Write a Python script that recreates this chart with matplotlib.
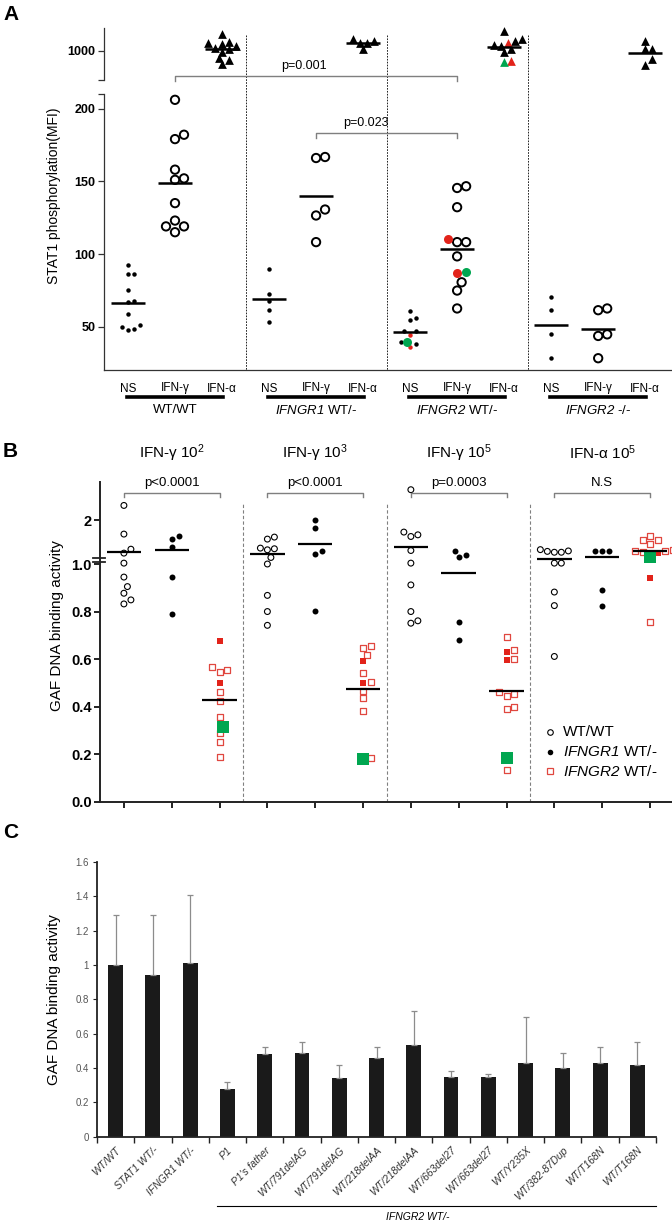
import numpy as np
import matplotlib
matplotlib.use('Agg')
import matplotlib.pyplot as plt
from matplotlib.lines import Line2D
from matplotlib import transforms

plt.rcParams['font.family'] = ['Liberation Sans', 'DejaVu Sans']
plt.rcParams['mathtext.fontset'] = 'custom'
plt.rcParams['mathtext.rm'] = 'Liberation Sans'
plt.rcParams['mathtext.it'] = 'Liberation Sans:italic'
# sf slot used for italic gene names (keeps the digits italic too)
plt.rcParams['mathtext.sf'] = 'Liberation Sans:italic'
NARROW = ['Liberation Sans Narrow', 'Liberation Sans', 'DejaVu Sans']

RED = '#e2231a'
GREEN = '#00a650'
SQ_RED = '#e0473f'

# ---------------- panel A data (STAT1 phosphorylation, MFI) ----------------
a_cols = ['NS', 'IFN-γ', 'IFN-α'] * 4
a_groups = ['WT/WT', '$\\mathsf{IFNGR1}$ WT/-', '$\\mathsf{IFNGR2}$ WT/-', '$\\mathsf{IFNGR2}$ -/-']

a_ns_wt = [92.7, 86.5, 86, 75.6, 68, 66.7, 59.1, 51.2, 50, 48.2, 47.7]
a_gam_wt = [206, 182, 179, 158, 152, 151, 135, 123, 119, 119, 115]
a_alf_wt = [1126, 1070, 1062, 1049, 1040, 1020, 1011, 995, 949, 934, 903]
a_ns_r1 = [89.7, 72.8, 68, 61.4, 53.2]
a_gam_r1 = [166.7, 166, 130.6, 126.5, 108.2]
a_alf_r1 = [1093, 1075, 1062, 1062, 1011]
a_ns_r2 = [60.8, 56.3, 54.6, 47.3, 47.3, 39.8, 38.2]
a_ns_r2_red = [44.5, 36]
a_ns_r2_green = [39.8]
a_gam_r2 = [146.6, 145.4, 132.2, 108.2, 108.2, 98.4, 80.6, 74.9, 62.6]
a_gam_r2_red = [110.4, 87.3]
a_gam_r2_green = [88]
a_alf_r2 = [1152, 1088, 1075, 1045, 1036, 1011, 990]
a_alf_r2_red = [1062, 926]
a_alf_r2_green = [913]
a_ns_ko = [70.3, 61.3, 44.8, 28.4]
a_gam_ko = [62.6, 61.4, 44.8, 43.7, 28.4]
a_alf_ko = [1075, 1016, 1011, 939, 895]

a_black = [a_ns_wt, a_gam_wt, a_alf_wt, a_ns_r1, a_gam_r1, a_alf_r1,
           a_ns_r2, a_gam_r2, a_alf_r2, a_ns_ko, a_gam_ko, a_alf_ko]
a_red = [[]] * 6 + [a_ns_r2_red, a_gam_r2_red, a_alf_r2_red] + [[]] * 3
a_green = [[]] * 6 + [a_ns_r2_green, a_gam_r2_green, a_alf_r2_green] + [[]] * 3

# ---------------- panel B data (GAF DNA binding) ----------------
b_titles = ['IFN-γ 10$^2$', 'IFN-γ 10$^3$', 'IFN-γ 10$^5$', 'IFN-α 10$^5$']
b_pvals = ['p<0.0001', 'p<0.0001', 'p=0.0003', 'N.S']
b_wt = [[2.345, 1.687, 1.34, 1.25, 1.02, 0.945, 0.905, 0.877, 0.849, 0.832],
        [1.618, 1.572, 1.365, 1.35, 1.326, 1.15, 1.0, 0.868, 0.80, 0.742],
        [2.706, 1.733, 1.67, 1.632, 1.31, 1.02, 0.912, 0.80, 0.761, 0.751],
        [1.33, 1.30, 1.29, 1.27, 1.27, 1.02, 1.02, 0.882, 0.825, 0.611]]
b_r1 = [[1.648, 1.57, 1.38, 0.945, 0.79],
        [2.0, 1.816, 1.30, 1.22, 0.802],
        [1.31, 1.21, 1.159, 0.755, 0.681],
        [1.30, 1.30, 1.30, 0.892, 0.822]]
b_r2 = [[0.568, 0.555, 0.544, 0.46, 0.424, 0.358, 0.288, 0.251, 0.189],
        [0.653, 0.646, 0.618, 0.541, 0.504, 0.467, 0.435, 0.382, 0.183],
        [0.695, 0.639, 0.602, 0.463, 0.451, 0.445, 0.397, 0.389, 0.134],
        [1.648, 1.556, 1.556, 1.464, 1.326, 1.30, 1.30, 1.28, 0.758]]
b_r2_red = [[0.678, 0.498], [0.59, 0.498], [0.629, 0.595], [1.264, 0.94]]
b_r2_green = [[0.316], [0.178], [0.183], [1.172]]
b_mean_wt = [1.287, 1.235, 1.40, 1.12]
b_mean_r1 = [1.326, 1.464, 0.964, 1.159]
b_mean_r2 = [0.428, 0.473, 0.467, 1.31]

# ---------------- panel C data ----------------
c_labels = ['WT/WT', 'STAT1 WT/-', 'IFNGR1 WT/-', 'P1', "P1's father",
            'WT/791delAG', 'WT/791delAG', 'WT/218delAA', 'WT/218delAA',
            'WT/663del27', 'WT/663del27', 'WT/Y235X', 'WT/382-87Dup',
            'WT/T168N', 'WT/T168N']
c_vals = [1.0, 0.94, 1.01, 0.276, 0.48, 0.49, 0.34, 0.46, 0.534,
          0.35, 0.35, 0.427, 0.40, 0.427, 0.42]
c_err = [0.29, 0.35, 0.40, 0.04, 0.04, 0.06, 0.08, 0.065, 0.20,
         0.034, 0.013, 0.27, 0.09, 0.095, 0.13]

W, H = 672, 1223


def fx(x):
    return x / W


def fy(y):
    return 1 - y / H


def swarm(ax, x0, vals, d):
    # simple beeswarm: spread points horizontally so markers don't overlap
    vals = np.asarray(vals, float)
    if len(vals) == 0:
        return np.array([])
    pts = ax.transData.transform(np.column_stack([np.full(len(vals), x0), vals]))
    ys = pts[:, 1]
    cands = [0.0]
    for k in range(1, 15):
        cands += [k * d / 2, -k * d / 2]
    placed = []
    offs = np.zeros(len(vals))
    for i in np.argsort(ys):
        for c in cands:
            ok = all((c - px) ** 2 + (ys[i] - py) ** 2 >= (d * 0.98) ** 2 for px, py in placed)
            if ok:
                break
        placed.append((c, ys[i]))
        offs[i] = c
    unit = ax.transData.transform([1, 0])[0] - ax.transData.transform([0, 0])[0]
    return offs / unit


def bold_ticks(ax, size):
    for lab in ax.get_yticklabels():
        lab.set_fontweight('bold')
        lab.set_fontsize(size)


fig = plt.figure(figsize=(6.72, 12.23), dpi=100)

# ============================ PANEL A ============================
axAt = fig.add_axes([fx(104), fy(80.5), 1 - fx(104), 52.5 / H])
axAb = fig.add_axes([fx(104), fy(370), 1 - fx(104), 276 / H])
for ax in (axAt, axAb):
    ax.set_xlim(-0.51, 11.57)
    ax.spines['right'].set_visible(False)
    ax.spines['top'].set_visible(False)
    ax.spines['left'].set_color('#333333')
    ax.spines['left'].set_linewidth(0.9)
    ax.tick_params(axis='y', length=4, width=0.9, color='#333333', pad=2)
axAt.spines['bottom'].set_visible(False)
axAt.set_xticks([])
axAt.set_ylim(774, 1175)
axAt.set_yticks([1000])
axAt.set_yticks([774], minor=True)
axAt.tick_params(axis='y', which='minor', length=4, width=0.9, color='#333333')
axAb.set_ylim(20.3, 210)
axAb.set_yticks([50, 100, 150, 200])
axAb.set_yticks([210], minor=True)
axAb.tick_params(axis='y', which='minor', length=4, width=0.9, color='#333333')
axAb.spines['bottom'].set_color('#333333')
axAb.spines['bottom'].set_linewidth(0.9)
axAb.set_xticks(range(12))
axAb.set_xticklabels(a_cols, fontfamily=NARROW, fontsize=8.5)
axAb.tick_params(axis='x', length=0, pad=9)
bold_ticks(axAt, 9)
bold_ticks(axAb, 9)

a_style = {
    0: dict(black=dict(marker='o', s=3.2 ** 2, c='k', lw=0),
            red=dict(marker='o', s=3.2 ** 2, c=RED, lw=0),
            green=dict(marker='o', s=6.5 ** 2, c=GREEN, lw=0), d=6),
    1: dict(black=dict(marker='o', s=6 ** 2, facecolors='none', edgecolors='k', lw=1.4),
            red=dict(marker='o', s=6.5 ** 2, c=RED, lw=0),
            green=dict(marker='o', s=6.5 ** 2, c=GREEN, lw=0), d=9),
    2: dict(black=dict(marker='^', s=6.3 ** 2, c='k', lw=0),
            red=dict(marker='^', s=6.3 ** 2, c=RED, lw=0),
            green=dict(marker='^', s=6.3 ** 2, c=GREEN, lw=0), d=7),
}

for i in range(12):
    kind = i % 3
    ax = axAt if kind == 2 else axAb
    st = a_style[kind]
    vals = list(a_black[i]) + list(a_red[i]) + list(a_green[i])
    tags = ['black'] * len(a_black[i]) + ['red'] * len(a_red[i]) + ['green'] * len(a_green[i])
    offs = swarm(ax, i, vals, st['d'])
    for tag in ('black', 'red', 'green'):
        idx = [j for j, t in enumerate(tags) if t == tag]
        if idx:
            ax.scatter(i + offs[idx], np.array(vals)[idx], zorder=3, clip_on=False, **st[tag])
    ax.hlines(np.mean(vals), i - 0.36, i + 0.36, color='k', lw=1.8, zorder=4)

blendA = transforms.blended_transform_factory(axAb.transData, fig.transFigure)
for xs in (2.5, 5.5, 8.5):
    fig.add_artist(Line2D([xs, xs], [fy(35), fy(370)], transform=blendA,
                          color='k', lw=0.6, ls=(0, (2, 1.5))))


def bracket(blend, x1, x2, ypix, leg=5, color='#7f7f7f'):
    fig.add_artist(Line2D([x1, x1, x2, x2],
                          [fy(ypix + leg), fy(ypix), fy(ypix), fy(ypix + leg)],
                          transform=blend, color=color, lw=1.0))


bracket(blendA, 1, 7, 76)
fig.text(3.75, fy(72), 'p=0.001', transform=blendA, ha='center', va='bottom',
         fontfamily=NARROW, fontsize=9)
bracket(blendA, 4, 7, 132.7)
fig.text(5.05, fy(129), 'p=0.023', transform=blendA, ha='center', va='bottom',
         fontfamily=NARROW, fontsize=9)

for g, name in enumerate(a_groups):
    c = 3 * g + 1
    fig.add_artist(Line2D([c - 1.02, c + 1.02], [fy(397), fy(397)], transform=blendA,
                          color='k', lw=2.6))
    fig.text(c, fy(410), name, transform=blendA, ha='center', va='center', fontsize=9.5)

fig.text(fx(54), fy(196), 'STAT1 phosphorylation(MFI)', rotation=90,
         ha='center', va='center', fontsize=10)

# ============================ PANEL B ============================
K = 0.1832


def fwd(y):
    y = np.asarray(y, float)
    return np.where(y <= 1, y, 1 + (y - 1) * K)


def inv(t):
    t = np.asarray(t, float)
    return np.where(t <= 1, t, 1 + (t - 1) / K)


axB = fig.add_axes([fx(100), fy(801.7), 1 - fx(100), 320 / H])
axB.set_yscale('function', functions=(fwd, inv))
axB.set_ylim(0, 2.89)
axB.set_xlim(-0.5, 11.46)
axB.spines['right'].set_visible(False)
axB.spines['top'].set_visible(False)
for s in ('left', 'bottom'):
    axB.spines[s].set_linewidth(1.4)
    axB.spines[s].set_color('#222222')
axB.set_yticks([0, 0.2, 0.4, 0.6, 0.8, 1.0, 2])
axB.set_yticklabels(['0.0', '0.2', '0.4', '0.6', '0.8', '1.0', '2'])
axB.yaxis.set_minor_locator(matplotlib.ticker.NullLocator())
axB.set_xticks(range(12))
axB.set_xticklabels([])
axB.tick_params(length=4, width=1.4, color='#222222', pad=2)
bold_ticks(axB, 10.5)
fig.text(fx(57), fy(626), 'GAF DNA binding activity', rotation=90,
         ha='center', va='center', fontsize=11)

# break mark on the y axis just above 1.0
blendBy = transforms.blended_transform_factory(axB.transAxes, axB.transData)
for yb in (1.044, 1.149):
    axB.add_line(Line2D([-0.013, 0.009], [yb, yb], transform=blendBy, color='#222222',
                        lw=1.3, clip_on=False))

for xs in (2.5, 5.5, 8.5):
    axB.axvline(xs, ymin=0, ymax=0.9375, color='#808080', lw=0.8, ls=(0, (3, 2)))

b_wt_style = dict(marker='o', s=4.2 ** 2, facecolors='none', edgecolors='k', lw=0.8)
b_r1_style = dict(marker='o', s=4.3 ** 2, c='k', lw=0)
b_r2_style = dict(marker='s', s=4.2 ** 2, facecolors='white', edgecolors=SQ_RED, lw=0.9)
b_red_style = dict(marker='s', s=4.6 ** 2, c=RED, lw=0)
b_green_style = dict(marker='s', s=8 ** 2, c=GREEN, lw=0)

for g in range(4):
    x_wt, x_r1, x_r2 = 3 * g, 3 * g + 1, 3 * g + 2
    o = swarm(axB, x_wt, b_wt[g], 7)
    axB.scatter(x_wt + o, b_wt[g], zorder=3, clip_on=False, **b_wt_style)
    o = swarm(axB, x_r1, b_r1[g], 7)
    axB.scatter(x_r1 + o, b_r1[g], zorder=3, **b_r1_style)
    vals = list(b_r2[g]) + list(b_r2_red[g]) + list(b_r2_green[g])
    n1, n2 = len(b_r2[g]), len(b_r2_red[g])
    o = swarm(axB, x_r2, vals, 7.5)
    v = np.array(vals)
    axB.scatter(x_r2 + o[:n1], v[:n1], zorder=3, **b_r2_style)
    axB.scatter(x_r2 + o[n1:n1 + n2], v[n1:n1 + n2], zorder=3, **b_red_style)
    axB.scatter(x_r2 + o[n1 + n2:], v[n1 + n2:], zorder=3, **b_green_style)
    for xc, m in ((x_wt, b_mean_wt[g]), (x_r1, b_mean_r1[g]), (x_r2, b_mean_r2[g])):
        axB.hlines(m, xc - 0.36, xc + 0.36, color='k', lw=1.6, zorder=4)

blendB = transforms.blended_transform_factory(axB.transData, fig.transFigure)
for g in range(4):
    bracket(blendB, 3 * g, 3 * g + 2, 492.7, leg=4.5)
    fig.text(3 * g + 1, fy(489), b_pvals[g], transform=blendB, ha='center', va='bottom',
             fontfamily=NARROW, fontsize=9.5)
    fig.text(3 * g + 1, fy(453), b_titles[g], transform=blendB, ha='center', va='center',
             fontsize=11)

# legend
leg_rows = [(732, 'WT/WT', b_wt_style), (752, '$\\mathsf{IFNGR1}$ WT/-', b_r1_style),
            (771, '$\\mathsf{IFNGR2}$ WT/-', b_r2_style)]
for ypix, lab, st in leg_rows:
    fig.add_artist(Line2D([fx(550)], [fy(ypix)], transform=fig.transFigure, ls='none',
                          marker=st['marker'], markersize=4.0,
                          markerfacecolor=st.get('facecolors', st.get('c')),
                          markeredgecolor=st.get('edgecolors', st.get('c')),
                          markeredgewidth=st['lw']))
    fig.text(fx(563), fy(ypix), lab, ha='left', va='center', fontsize=11)

# ============================ PANEL C ============================
axC = fig.add_axes([fx(97), fy(1136.7), fx(656) - fx(97), 274.7 / H])
xc = np.arange(len(c_vals))
axC.bar(xc, c_vals, width=0.4, color='#1a1a1a',
        yerr=[np.zeros(len(c_err)), c_err], ecolor='#8c8c8c', capsize=2,
        error_kw=dict(elinewidth=0.9, capthick=0.9))
axC.set_ylim(0, 1.6)
axC.set_xlim(-0.5, len(c_vals) - 0.5)
axC.spines['right'].set_visible(False)
axC.spines['top'].set_visible(False)
for s in ('left', 'bottom'):
    axC.spines[s].set_linewidth(1.3)
    axC.spines[s].set_color('#222222')
axC.set_yticks(np.arange(0, 1.61, 0.2))
axC.set_yticklabels(['0', '0.2', '0.4', '0.6', '0.8', '1', '1.2', '1.4', '1.6'],
                    fontfamily=NARROW, fontsize=7, color='#555555')
axC.tick_params(axis='y', length=3, width=0.8, color='#222222', pad=3)
axC.set_xticks(np.arange(-0.5, len(c_vals), 1))
axC.set_xticklabels([])
axC.tick_params(axis='x', which='major', length=4, width=1.0, color='#222222')
axC.set_xticks(xc, minor=True)
axC.set_xticklabels(c_labels, minor=True, rotation=45, ha='right', rotation_mode='anchor',
                    fontsize=7.5, style='italic', color='#333333')
axC.tick_params(axis='x', which='minor', length=0, pad=6)
axC.set_ylabel('GAF DNA binding activity', fontsize=11, labelpad=10)

blendC = transforms.blended_transform_factory(axC.transData, fig.transFigure)
fig.add_artist(Line2D([2.72, len(c_vals) - 0.5], [fy(1206), fy(1206)], transform=blendC,
                      color='k', lw=0.8))
fig.text(fx(418), fy(1217), 'IFNGR2 WT/-', ha='center', va='center', fontsize=7.5,
         style='italic')

# panel letters
for letter, ypix in (('A', 14), ('B', 452), ('C', 832)):
    fig.text(fx(3), fy(ypix), letter, ha='left', va='center', fontsize=15, fontweight='bold')

fig.savefig('out.png', dpi=100)
